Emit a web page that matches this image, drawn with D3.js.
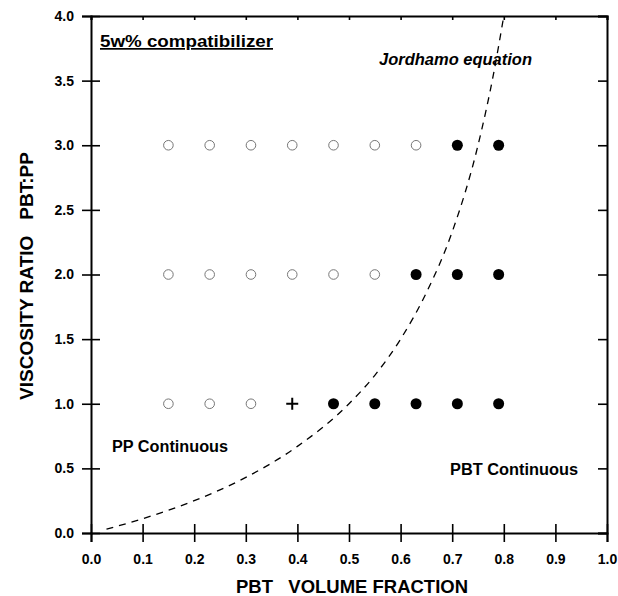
<!DOCTYPE html>
<html>
<head>
<meta charset="utf-8">
<script src="https://cdn.jsdelivr.net/npm/d3@7"></script>
<style>
  body { margin: 0; background: #fff; }
  text { font-family: "Liberation Sans", Arial, sans-serif; font-weight: bold; }
</style>
</head>
<body>
<script>
// volume fractions used in the blends
const fractions = [0.15, 0.23, 0.31, 0.39, 0.47, 0.55, 0.63, 0.71, 0.79];
const ratios = [1.0, 2.0, 3.0];
// morphology per ratio row: o = PP continuous, f = PBT continuous, x = co-continuous
const morph1 = ["o", "o", "o", "x", "f", "f", "f", "f", "f"];
const morph2 = ["o", "o", "o", "o", "o", "o", "f", "f", "f"];
const morph3 = ["o", "o", "o", "o", "o", "o", "o", "f", "f"];

// Jordhamo curve
const curveX = [0.03, 0.1, 0.2, 0.3, 0.4, 0.5, 0.55, 0.6, 0.65, 0.7, 0.75, 0.78, 0.8];
const curveY = [0.03, 0.11, 0.25, 0.43, 0.67, 1.0, 1.22, 1.5, 1.86, 2.33, 3.0, 3.55, 4.0];

const xTicks = [0, 0.1, 0.2, 0.3, 0.4, 0.5, 0.6, 0.7, 0.8, 0.9, 1.0];
const yTicks = [0, 0.5, 1.0, 1.5, 2.0, 2.5, 3.0, 3.5, 4.0];

const margin = { top: 16, right: 11, bottom: 63, left: 91 };
const totalWidth = 618;
const totalHeight = 596;
const width = totalWidth - margin.left - margin.right;
const height = totalHeight - margin.top - margin.bottom;

const svg = d3.select("body")
  .append("svg")
  .attr("width", totalWidth)
  .attr("height", totalHeight)
  .append("g")
  .attr("transform", `translate(${margin.left}, ${margin.top})`);

const x = d3.scaleLinear().domain([0, 1]).range([0, width]);
const y = d3.scaleLinear().domain([0, 4]).range([height, 0]);

// axes
const bottom = svg.append("g")
  .attr("transform", `translate(0, ${height})`)
  .call(d3.axisBottom(x).tickValues(xTicks).tickFormat(d3.format(".1f")).tickSize(9).tickPadding(12));
bottom.selectAll(".tick line").attr("y1", -9);

const left = svg.append("g")
  .call(d3.axisLeft(y).tickValues(yTicks).tickFormat(d3.format(".1f")).tickSize(9).tickPadding(8));
left.selectAll(".tick line").attr("x1", 9);

svg.append("g")
  .call(d3.axisTop(x).tickValues(xTicks).tickFormat("").tickSize(-4));

svg.append("g")
  .attr("transform", `translate(${width}, 0)`)
  .call(d3.axisRight(y).tickValues(yTicks).tickFormat("").tickSize(-9));

svg.selectAll(".domain").attr("stroke", "#000").attr("stroke-width", 2);
svg.selectAll(".tick line").attr("stroke", "#000").attr("stroke-width", 1.6);
svg.selectAll(".tick text").attr("fill", "#000").style("font-size", "14px").style("font-weight", "bold");

// Jordhamo curve
const curvePts = curveX.map((v, i) => [v, curveY[i]]);
svg.append("path")
  .datum(curvePts)
  .attr("fill", "none")
  .attr("stroke", "#000")
  .attr("stroke-width", 1.3)
  .attr("stroke-dasharray", "7,6")
  .attr("d", d3.line().x(d => x(d[0])).y(d => y(d[1])).curve(d3.curveMonotoneX));

// points
const pts = [];
[morph1, morph2, morph3].forEach((row, r) => {
  row.forEach((m, i) => pts.push({ f: fractions[i], ratio: ratios[r], m }));
});

svg.selectAll("circle.open")
  .data(pts.filter(d => d.m === "o"))
  .enter()
  .append("circle")
  .attr("class", "open")
  .attr("cx", d => x(d.f))
  .attr("cy", d => y(d.ratio))
  .attr("r", 4.8)
  .attr("fill", "none")
  .attr("stroke", "#777")
  .attr("stroke-width", 1);

svg.selectAll("circle.filled")
  .data(pts.filter(d => d.m === "f"))
  .enter()
  .append("circle")
  .attr("class", "filled")
  .attr("cx", d => x(d.f))
  .attr("cy", d => y(d.ratio))
  .attr("r", 5.5)
  .attr("fill", "#000");

svg.selectAll("path.cross")
  .data(pts.filter(d => d.m === "x"))
  .enter()
  .append("path")
  .attr("class", "cross")
  .attr("d", d => {
    const cx = x(d.f), cy = y(d.ratio), s = 6;
    return `M${cx - s},${cy}H${cx + s}M${cx},${cy - s}V${cy + s}`;
  })
  .attr("stroke", "#000")
  .attr("stroke-width", 2);

// annotations
svg.append("text")
  .attr("x", 9)
  .attr("y", 31)
  .attr("textLength", 173)
  .attr("lengthAdjust", "spacingAndGlyphs")
  .style("font-size", "17px")
  .style("text-decoration", "underline")
  .text("5w% compatibilizer");

svg.append("text")
  .attr("x", 288)
  .attr("y", 49)
  .attr("textLength", 153)
  .attr("lengthAdjust", "spacingAndGlyphs")
  .style("font-size", "16px")
  .style("font-style", "italic")
  .text("Jordhamo equation");

svg.append("text")
  .attr("x", 21)
  .attr("y", 436)
  .attr("textLength", 116)
  .attr("lengthAdjust", "spacingAndGlyphs")
  .style("font-size", "16px")
  .text("PP Continuous");

svg.append("text")
  .attr("x", 359)
  .attr("y", 459)
  .attr("textLength", 128)
  .attr("lengthAdjust", "spacingAndGlyphs")
  .style("font-size", "16px")
  .text("PBT Continuous");

// axis titles
svg.append("text")
  .attr("x", (236 + 468) / 2 - margin.left)
  .attr("y", height + 60)
  .attr("text-anchor", "middle")
  .attr("textLength", 232)
  .attr("lengthAdjust", "spacingAndGlyphs")
  .style("font-size", "18px")
  .style("white-space", "pre")
  .attr("xml:space", "preserve")
  .text("PBT   VOLUME FRACTION");

svg.append("text")
  .attr("transform", "rotate(-90)")
  .attr("x", -(276 - margin.top))
  .attr("y", -58)
  .attr("text-anchor", "middle")
  .attr("textLength", 248)
  .attr("lengthAdjust", "spacingAndGlyphs")
  .style("font-size", "18px")
  .style("white-space", "pre")
  .attr("xml:space", "preserve")
  .text("VISCOSITY RATIO   PBT:PP");
</script>
</body>
</html>
